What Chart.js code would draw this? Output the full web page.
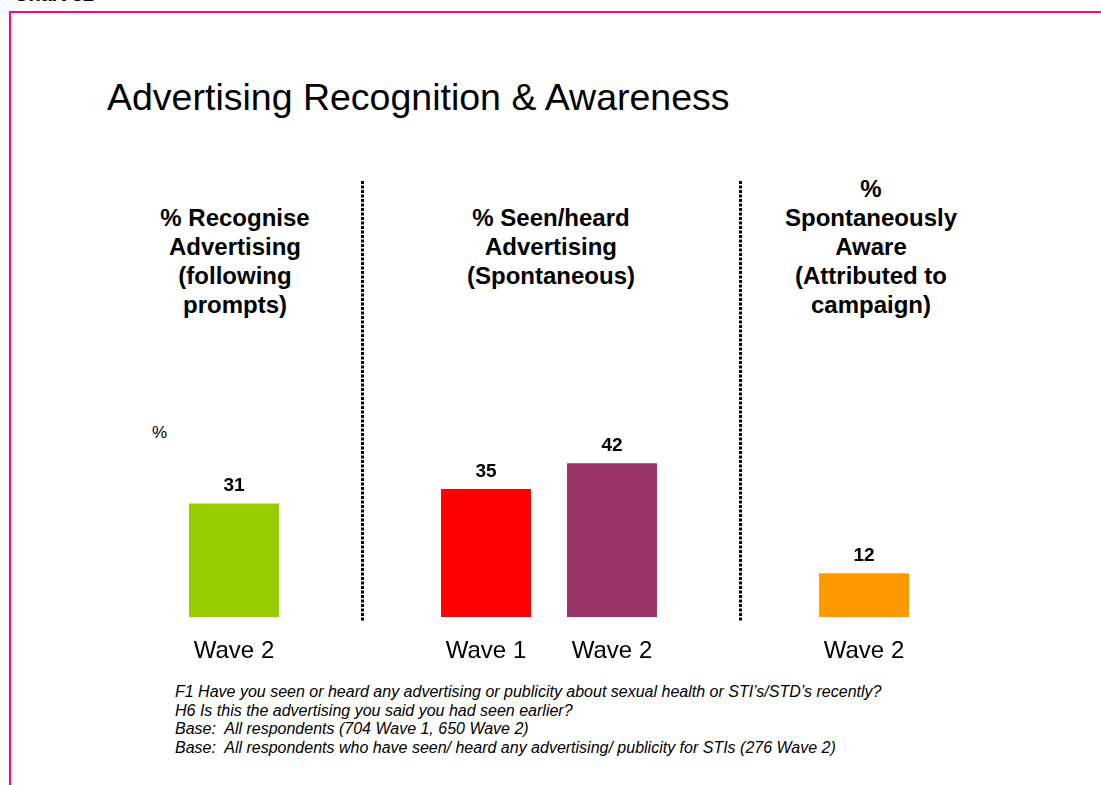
<!DOCTYPE html>
<html>
<head>
<meta charset="utf-8">
<script src="https://cdn.jsdelivr.net/npm/chart.js@4"></script>
<style>
  body { margin: 0; background: #fff; font-family: "Liberation Sans", Arial, sans-serif; }
  #page { position: relative; width: 1101px; height: 785px; overflow: hidden; }
  #frame { position: absolute; left: 9px; top: 11px; width: 1200px; height: 900px;
           border-top: 2px solid #ff0090; border-left: 2px solid #ff0090; }
  #chartno { position: absolute; left: 14px; top: -17px; font-size: 20px; font-weight: bold; }
  #title { position: absolute; left: 107px; top: 76px; font-size: 37.5px; color: #000; white-space: nowrap; }
  .head { position: absolute; width: 260px; text-align: center; font-size: 24px; font-weight: bold;
          line-height: 29px; color: #000; }
  #pct { position: absolute; left: 152px; top: 423px; font-size: 17px; }
  #notes { position: absolute; left: 175px; top: 683px; font-size: 16px; font-style: italic;
           line-height: 18.5px; color: #000; white-space: nowrap; }
  canvas { position: absolute; left: 0; top: 0; }
</style>
</head>
<body>
<div id="page">
  <div id="frame"></div>
  <div id="chartno">Chart 32</div>
  <div id="title">Advertising Recognition &amp; Awareness</div>
  <div class="head" style="left:105px; top:203px;">% Recognise<br>Advertising<br>(following<br>prompts)</div>
  <div class="head" style="left:421px; top:203px;">% Seen/heard<br>Advertising<br>(Spontaneous)</div>
  <div class="head" style="left:741px; top:174px;">%<br>Spontaneously<br>Aware<br>(Attributed to<br>campaign)</div>
  <div id="pct">%</div>
  <div id="notes">
    F1 Have you seen or heard any advertising or publicity about sexual health or STI’s/STD’s recently?<br>
    H6 Is this the advertising you said you had seen earlier?<br>
    Base:&nbsp; All respondents (704 Wave 1, 650 Wave 2)<br>
    Base:&nbsp; All respondents who have seen/ heard any advertising/ publicity for STIs (276 Wave 2)
  </div>
  <canvas id="adChart" width="1101" height="785"></canvas>
</div>
<script>
// slots 1 and 4 are empty gaps between the three question groups
const labels = ['Wave 2', '', 'Wave 1', 'Wave 2', '', 'Wave 2'];
const values = [31, null, 35, 42, null, 12];
const colours = ['#99cc00', null, '#ff0000', '#993366', null, '#ff9900'];
const dividerSlots = [1, 4];

// dotted separators + value labels above each bar
const extras = {
    id: 'extras',
    afterDatasetsDraw(chart) {
        const ctx = chart.ctx;
        const area = chart.chartArea;
        const x = chart.scales.x;
        ctx.save();
        ctx.strokeStyle = '#000';
        ctx.lineWidth = 3;
        ctx.setLineDash([3, 1.5]);
        dividerSlots.forEach(i => {
            const px = Math.round(x.getPixelForValue(i)) + 2.5;
            ctx.beginPath();
            ctx.moveTo(px, area.top);
            ctx.lineTo(px, area.bottom + 4);
            ctx.stroke();
        });
        ctx.setLineDash([]);
        ctx.fillStyle = '#000';
        ctx.font = 'bold 19px "Liberation Sans", Arial, sans-serif';
        ctx.textAlign = 'center';
        ctx.textBaseline = 'bottom';
        chart.getDatasetMeta(0).data.forEach((bar, i) => {
            if (values[i] == null) return;
            ctx.fillText(values[i], bar.x, bar.y - 8);
        });
        ctx.restore();
    }
};

new Chart(document.getElementById('adChart'), {
    type: 'bar',
    data: {
        labels: labels,
        datasets: [{
            data: values,
            backgroundColor: colours,
            borderWidth: 0,
            categoryPercentage: 1,
            barPercentage: 0.714
        }]
    },
    options: {
        responsive: false,
        animation: false,
        layout: { padding: { left: 171, right: 174, top: 181, bottom: 107 } },
        plugins: { legend: { display: false }, tooltip: { enabled: false } },
        scales: {
            x: {
                grid: { display: false },
                border: { display: false },
                ticks: {
                    color: '#000',
                    padding: 12,
                    font: { family: '"Liberation Sans", Arial, sans-serif', size: 24 }
                }
            },
            y: {
                display: false,
                min: 0,
                max: 119
            }
        }
    },
    plugins: [extras]
});
</script>
</body>
</html>
